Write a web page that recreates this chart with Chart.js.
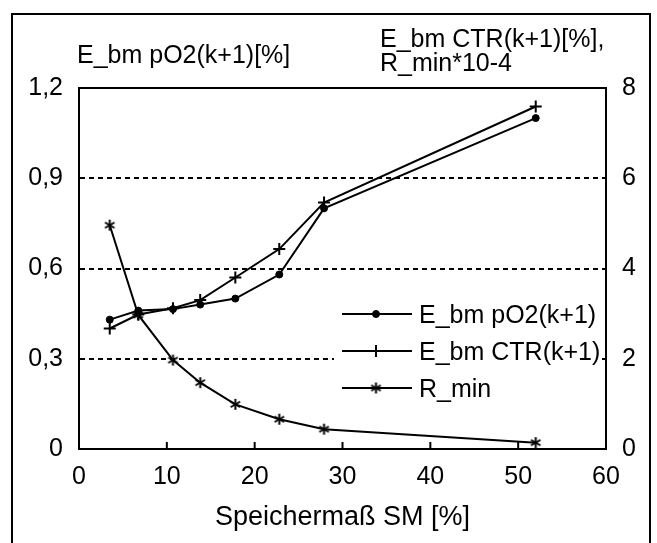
<!DOCTYPE html>
<html>
<head>
    <title>Speichermass Chart</title>
    <script src="https://cdn.jsdelivr.net/npm/chart.js"></script>
    <style>
        body { margin: 0; background: #fff; }
        #wrap { width: 657px; height: 543px; }
    </style>
</head>
<body>
    <div id="wrap"><canvas id="chart"></canvas></div>
    <script>
        // Values
        const speichermass = [3.5, 6.75, 10.7, 13.8, 17.8, 22.8, 27.9, 52.0];
        const ebmPO2 = [0.43, 0.46, 0.465, 0.48, 0.50, 0.58, 0.80, 1.10];
        const ebmCTR = [2.67, 2.98, 3.12, 3.3, 3.8, 4.43, 5.46, 7.59];
        const rMin = [4.96, 2.97, 1.97, 1.47, 0.99, 0.66, 0.44, 0.14];

        const seriesNames = ['E_bm pO2(k+1)', 'E_bm CTR(k+1)', 'R_min'];
        const xTickLabels = ['0', '10', '20', '30', '40', '50', '60'];
        const leftTickLabels = ['0', '0,3', '0,6', '0,9', '1,2'];
        const rightTickLabels = ['0', '2', '4', '6', '8'];
        const xTitle = 'Speichermaß SM [%]';
        const leftTitle = 'E_bm pO2(k+1)[%]';
        const rightTitle = ['E_bm CTR(k+1)[%],', 'R_min*10-4'];

        const FONT = '"Liberation Sans", Arial, sans-serif';

        // asterisk marker (3 strokes)
        function makeAsterisk(size, lw) {
            const c = document.createElement('canvas');
            c.width = size;
            c.height = size;
            const g = c.getContext('2d');
            g.strokeStyle = '#000';
            g.lineWidth = lw;
            const cx = size / 2, cy = size / 2, r = size / 2 - 1;
            [90, 30, 150].forEach(a => {
                const rad = a * Math.PI / 180;
                g.beginPath();
                g.moveTo(cx - r * Math.cos(rad), cy - r * Math.sin(rad));
                g.lineTo(cx + r * Math.cos(rad), cy + r * Math.sin(rad));
                g.stroke();
            });
            return c;
        }
        const asterisk = makeAsterisk(13, 2);

        function pts(ys) {
            return speichermass.map((x, i) => ({ x: x, y: ys[i] }));
        }

        function drawMarker(ctx, ds, x, y) {
            ctx.save();
            ctx.fillStyle = '#000';
            ctx.strokeStyle = '#000';
            ctx.lineWidth = ds.pointBorderWidth;
            if (Chart.helpers && Chart.helpers.drawPoint) {
                Chart.helpers.drawPoint(ctx, {
                    pointStyle: ds.pointStyle,
                    radius: ds.pointRadius,
                    borderWidth: ds.pointBorderWidth,
                    rotation: 0
                }, x, y);
            }
            ctx.restore();
        }

        // frame, plot box, inner ticks, axis titles, legend
        const decorPlugin = {
            id: 'decor',
            beforeDraw(chart) {
                const ctx = chart.ctx;
                ctx.save();
                ctx.fillStyle = '#fff';
                ctx.fillRect(0, 0, chart.width, chart.height);
                ctx.restore();
            },
            afterDraw(chart) {
                const ctx = chart.ctx;
                const a = chart.chartArea;
                ctx.save();
                ctx.strokeStyle = '#000';
                ctx.lineWidth = 2;
                // outer frame
                ctx.strokeRect(12, 14, 638, 540);
                // plot box
                ctx.strokeRect(a.left, a.top, a.right - a.left, a.bottom - a.top);
                // x ticks pointing up
                const xs = chart.scales.x;
                xs.ticks.forEach(t => {
                    const px = xs.getPixelForValue(t.value);
                    ctx.beginPath();
                    ctx.moveTo(px, a.bottom);
                    ctx.lineTo(px, a.bottom - 7);
                    ctx.stroke();
                });
                // axis titles
                ctx.fillStyle = '#000';
                ctx.font = '25px ' + FONT;
                ctx.textBaseline = 'alphabetic';
                ctx.textAlign = 'left';
                ctx.fillText(leftTitle, 77, 63);
                ctx.fillText(rightTitle[0], 380, 47);
                ctx.fillText(rightTitle[1], 380, 71);

                // legend box (white, hides the grid line behind it)
                ctx.fillStyle = '#fff';
                ctx.fillRect(334, 294, 268, 112);
                ctx.fillStyle = '#000';
                const rows = [314, 351, 388];
                chart.data.datasets.forEach((ds, i) => {
                    const y = rows[i];
                    ctx.beginPath();
                    ctx.moveTo(342, y);
                    ctx.lineTo(412, y);
                    ctx.stroke();
                    drawMarker(ctx, ds, 376, y);
                    ctx.fillText(ds.label, 419, y + 9);
                });
                ctx.restore();
            }
        };

        const ctx = document.getElementById('chart').getContext('2d');
        const myChart = new Chart(ctx, {
            type: 'line',
            data: {
                datasets: [{
                    label: seriesNames[0],
                    data: pts(ebmPO2),
                    yAxisID: 'y',
                    borderColor: '#000',
                    backgroundColor: '#000',
                    borderWidth: 2,
                    pointStyle: 'circle',
                    pointRadius: 3.5,
                    pointBorderWidth: 1,
                    tension: 0
                }, {
                    label: seriesNames[1],
                    data: pts(ebmCTR),
                    yAxisID: 'y2',
                    borderColor: '#000',
                    backgroundColor: '#000',
                    borderWidth: 2,
                    pointStyle: 'cross',
                    pointRadius: 6,
                    pointBorderWidth: 2,
                    tension: 0
                }, {
                    label: seriesNames[2],
                    data: pts(rMin),
                    yAxisID: 'y2',
                    borderColor: '#000',
                    backgroundColor: '#000',
                    borderWidth: 2,
                    pointStyle: asterisk,
                    pointRadius: 6,
                    pointBorderWidth: 2,
                    tension: 0
                }]
            },
            options: {
                responsive: true,
                maintainAspectRatio: false,
                animation: false,
                events: [],
                devicePixelRatio: 1,
                layout: { padding: { top: 88, left: 0, right: 0, bottom: 0 } },
                plugins: {
                    legend: { display: false },
                    tooltip: { enabled: false }
                },
                scales: {
                    x: {
                        type: 'linear',
                        min: 0,
                        max: 60,
                        afterFit: s => { s.height = 94; },
                        grid: { drawOnChartArea: false, drawTicks: false },
                        border: { display: true, color: '#000', width: 2 },
                        ticks: {
                            stepSize: 10,
                            autoSkip: false,
                            maxRotation: 0,
                            padding: 13,
                            color: '#000',
                            font: { family: FONT, size: 25 },
                            callback: v => xTickLabels[Math.round(v / 10)]
                        },
                        title: {
                            display: true,
                            text: xTitle,
                            color: '#000',
                            font: { family: FONT, size: 27 },
                            padding: { top: 0, bottom: 9 }
                        }
                    },
                    y: {
                        position: 'left',
                        min: 0,
                        max: 1.2,
                        afterFit: s => { s.width = 79; },
                        grid: {
                            drawTicks: false,
                            lineWidth: 2,
                            color: c => (c.tick && c.tick.value > 0.01 && c.tick.value < 1.19) ? '#000' : 'rgba(0,0,0,0)'
                        },
                        border: { display: true, color: '#000', width: 2, dash: [5, 4] },
                        ticks: {
                            stepSize: 0.3,
                            padding: 16,
                            color: '#000',
                            font: { family: FONT, size: 25 },
                            callback: v => leftTickLabels[Math.round(v / 0.3)]
                        }
                    },
                    y2: {
                        position: 'right',
                        min: 0,
                        max: 8,
                        afterFit: s => { s.width = 51; },
                        grid: { drawOnChartArea: false, drawTicks: false },
                        border: { display: true, color: '#000', width: 2 },
                        ticks: {
                            stepSize: 2,
                            padding: 16,
                            color: '#000',
                            font: { family: FONT, size: 25 },
                            callback: v => rightTickLabels[Math.round(v / 2)]
                        }
                    }
                }
            },
            plugins: [decorPlugin]
        });
    </script>
</body>
</html>
